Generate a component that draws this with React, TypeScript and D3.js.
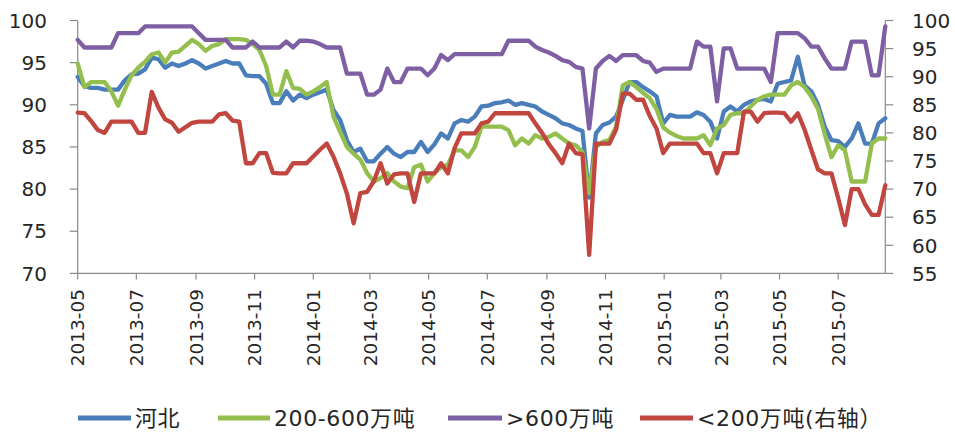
import React from "react";
import * as d3 from "d3";

const W = 955;
const H = 433;

// weekly observations starting 2013-05-01
const startDate = new Date(2013, 4, 1);

const hebei = [
  93.3, 92.2, 92.0, 92.0, 91.8, 91.8, 91.8, 92.9, 93.6, 93.7,
  94.2, 95.6, 95.4, 94.4, 94.9, 94.6, 94.9, 95.3, 94.9, 94.3,
  94.6, 94.9, 95.2, 94.9, 94.9, 93.5, 93.4, 93.4, 92.5, 90.2,
  90.2, 91.6, 90.5, 91.2, 90.8, 91.2, 91.5, 91.8, 89.4, 88.2,
  85.8, 84.4, 84.8, 83.3, 83.3, 84.2, 85.0, 84.2, 83.8, 84.4,
  84.4, 85.6, 84.4, 85.3, 86.6, 86.0, 87.8, 88.2, 88.0, 88.6,
  89.8, 89.9, 90.2, 90.3, 90.5, 90.0, 90.2, 90.0, 89.8, 89.2,
  88.8, 88.4, 87.8, 87.6, 87.2, 86.9, 79.0, 86.6, 87.6, 87.9,
  88.6, 90.6, 92.7, 92.7, 92.1, 91.6, 91.0, 87.8, 88.8, 88.6,
  88.6, 88.6, 89.1, 88.8, 88.0, 86.0, 89.2, 89.8, 89.2, 90.0,
  90.4, 90.6, 90.7, 90.4, 92.5, 92.7, 92.9, 95.7, 92.3, 91.6,
  90.0, 87.4, 85.8, 85.7, 85.0, 86.0, 87.8, 85.4, 85.4, 87.8,
  88.4,
];

const mid200to600 = [
  94.9, 92.1, 92.7, 92.7, 92.7, 91.6, 89.9, 91.8, 93.5, 94.4,
  95.1, 96.0, 96.2, 95.0, 96.2, 96.3, 97.0, 97.7, 97.2, 96.4,
  97.0, 97.2, 97.8, 97.8, 97.8, 97.7, 97.2, 96.5, 94.6, 91.2,
  91.2, 94.0, 92.0, 91.9, 91.2, 91.6, 92.1, 92.7, 88.6, 86.8,
  85.0, 84.2, 83.5, 81.9, 80.9, 81.3, 81.9, 80.9, 80.3, 80.1,
  82.6, 82.9, 80.9, 81.9, 82.6, 82.9, 84.6, 84.6, 83.8, 85.0,
  87.4, 87.4, 87.4, 87.4, 87.0, 85.2, 86.0, 85.4, 86.4, 86.0,
  86.2, 86.6, 86.0, 85.4, 85.2, 84.4, 79.5, 85.0, 85.6, 85.8,
  87.4, 92.3, 92.7, 92.1, 91.4, 90.8, 89.5, 87.3, 86.7, 86.3,
  86.0, 86.0, 86.0, 86.4, 85.2, 87.2, 87.6, 88.8, 89.0, 89.0,
  89.8, 90.6, 91.0, 91.2, 91.2, 91.2, 92.3, 92.7, 92.1, 91.0,
  89.5, 86.5, 83.8, 85.2, 84.6, 80.9, 80.9, 80.9, 85.4, 86.0,
  86.0,
];

const over600 = [
  97.7, 96.8, 96.8, 96.8, 96.8, 96.8, 98.5, 98.5, 98.5, 98.5,
  99.3, 99.3, 99.3, 99.3, 99.3, 99.3, 99.3, 99.3, 98.5, 97.7,
  97.7, 97.7, 97.7, 96.8, 96.8, 96.8, 97.5, 96.8, 96.8, 96.8,
  96.8, 97.5, 96.8, 97.6, 97.6, 97.5, 97.2, 96.8, 96.8, 96.8,
  93.7, 93.7, 93.7, 91.2, 91.2, 91.8, 94.3, 92.7, 92.7, 94.3,
  94.3, 94.3, 93.5, 94.3, 95.9, 95.3, 96.0, 96.0, 96.0, 96.0,
  96.0, 96.0, 96.0, 96.0, 97.6, 97.6, 97.6, 97.6, 96.9, 96.5,
  96.2, 95.8, 95.3, 95.1, 94.5, 94.3, 87.2, 94.3, 95.2, 95.8,
  95.2, 95.9, 95.9, 95.9, 95.2, 95.0, 93.9, 94.3, 94.3, 94.3,
  94.3, 94.3, 97.5, 96.9, 96.9, 90.4, 96.7, 96.7, 94.3, 94.3,
  94.3, 94.3, 94.3, 92.7, 98.5, 98.5, 98.5, 98.5, 97.9, 96.9,
  96.9, 95.5, 94.3, 94.3, 94.3, 97.5, 97.5, 97.5, 93.5, 93.5,
  99.3,
];

const under200 = [
  83.6, 83.5, 82.1, 80.5, 80.0, 82.0, 82.0, 82.0, 82.0, 80.0,
  80.0, 87.3, 84.5, 82.4, 81.8, 80.2, 81.0, 81.8, 82.0, 82.0,
  82.0, 83.3, 83.5, 82.2, 82.0, 74.6, 74.6, 76.4, 76.4, 72.9,
  72.8, 72.8, 74.6, 74.6, 74.6, 75.8, 77.0, 78.1, 75.8, 72.8,
  69.2, 63.9, 69.3, 69.5, 71.4, 74.6, 71.0, 72.6, 72.8, 72.8,
  67.7, 72.8, 72.8, 72.8, 74.6, 72.8, 77.3, 79.9, 79.9, 79.9,
  81.7, 82.0, 83.5, 83.5, 83.5, 83.5, 83.5, 83.5, 81.7, 80.0,
  78.0, 76.4, 74.6, 78.1, 76.4, 76.2, 58.3, 78.1, 78.1, 78.1,
  80.6, 87.0, 87.0, 85.9, 85.9, 83.0, 80.8, 76.4, 78.1, 78.1,
  78.1, 78.1, 78.1, 76.4, 76.4, 72.8, 76.4, 76.4, 76.4, 83.8,
  83.8, 82.0, 83.5, 83.6, 83.6, 83.5, 82.0, 83.5, 80.6, 77.0,
  73.5, 72.8, 72.8, 68.4, 63.6, 70.0, 70.0, 67.3, 65.4, 65.4,
  70.7,
];

const leftTicks = [70, 75, 80, 85, 90, 95, 100];
const rightTicks = [55, 60, 65, 70, 75, 80, 85, 90, 95, 100];

const seriesNames = ["河北", "200-600万吨", ">600万吨", "<200万吨(右轴）"];
const seriesColors = ["#4A7EBB", "#94BF4E", "#7E5FA4", "#C0463F"];

const dates = hebei.map((_, i) => d3.timeDay.offset(startDate, 7 * i));

export default function App() {
  const left = 77.7;
  const right = 885.3;
  const top = 20.5;
  const bottom = 273.4;

  const x = d3
    .scaleTime()
    .domain([dates[0], dates[dates.length - 1]])
    .range([left, right]);
  const yL = d3.scaleLinear().domain([70, 100]).range([bottom, top]);
  const yR = d3.scaleLinear().domain([55, 100]).range([bottom, top]);

  const xTicks = x.ticks(d3.timeMonth.every(2)).filter((d) => d <= dates[dates.length - 1]);
  const fmt = d3.timeFormat("%Y-%m");

  const lineL = d3
    .line<number>()
    .x((_, i) => x(dates[i]))
    .y((v) => yL(v));
  const lineR = d3
    .line<number>()
    .x((_, i) => x(dates[i]))
    .y((v) => yR(v));

  const paths = [
    { d: lineL(hebei), c: seriesColors[0] },
    { d: lineL(mid200to600), c: seriesColors[1] },
    { d: lineL(over600), c: seriesColors[2] },
    { d: lineR(under200), c: seriesColors[3] },
  ];

  const axisColor = "#8a8a8a";
  const textColor = "#262626";
  const font = "'DejaVu Sans', 'Noto Sans CJK SC', sans-serif";

  const legendItems = [
    { x0: 78, x1: 131 },
    { x0: 218, x1: 270 },
    { x0: 448, x1: 502 },
    { x0: 640, x1: 693 },
  ];
  const legendY = 418;

  return (
    <svg
      width={W}
      height={H}
      style={{ position: "absolute", left: 0, top: 0, background: "#fff" }}
      fontFamily={font}
    >
      <rect x={0} y={0} width={W} height={H} fill="#fff" />
      {/* axes */}
      <line x1={left} x2={left} y1={top} y2={bottom} stroke={axisColor} strokeWidth={1.2} />
      <line x1={right} x2={right} y1={top} y2={bottom} stroke={axisColor} strokeWidth={1.2} />
      <line x1={left} x2={right} y1={bottom} y2={bottom} stroke={axisColor} strokeWidth={1.2} />

      {leftTicks.map((t) => (
        <g key={"l" + t}>
          <line x1={left - 8} x2={left} y1={yL(t)} y2={yL(t)} stroke={axisColor} strokeWidth={1.2} />
          <text x={47} y={yL(t)} dy="0.36em" textAnchor="end" fontSize={20} fill={textColor}>
            {t}
          </text>
        </g>
      ))}
      {rightTicks.map((t) => (
        <g key={"r" + t}>
          <line x1={right} x2={right + 8} y1={yR(t)} y2={yR(t)} stroke={axisColor} strokeWidth={1.2} />
          <text x={912} y={yR(t)} dy="0.36em" textAnchor="start" fontSize={20} fill={textColor}>
            {t}
          </text>
        </g>
      ))}
      {xTicks.map((d) => (
        <g key={d.toISOString()}>
          <line x1={x(d)} x2={x(d)} y1={bottom} y2={bottom + 6} stroke={axisColor} strokeWidth={1.2} />
          <text
            transform={`translate(${x(d)},${289}) rotate(-90)`}
            dy="0.36em"
            textAnchor="end"
            fontSize={18.5}
            fill={textColor}
          >
            {fmt(d)}
          </text>
        </g>
      ))}

      {paths.map((p, i) => (
        <path
          key={i}
          d={p.d || ""}
          fill="none"
          stroke={p.c}
          strokeWidth={4.3}
          strokeLinejoin="round"
          strokeLinecap="round"
        />
      ))}

      {legendItems.map((it, i) => (
        <g key={"lg" + i}>
          <line
            x1={it.x0}
            x2={it.x1}
            y1={legendY}
            y2={legendY}
            stroke={seriesColors[i]}
            strokeWidth={5}
          />
          <text
            x={it.x1 + 4}
            y={legendY}
            dy="0.36em"
            fontSize={22}
            letterSpacing={0.6}
            fill={textColor}
          >
            {seriesNames[i]}
          </text>
        </g>
      ))}
    </svg>
  );
}
